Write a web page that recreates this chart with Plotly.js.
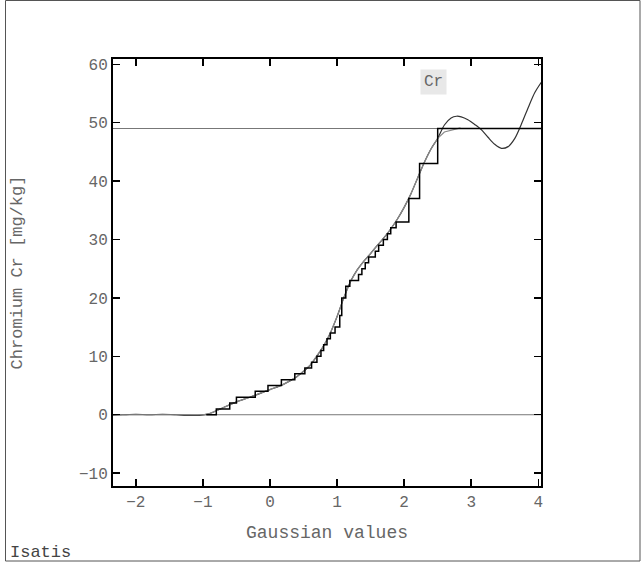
<!DOCTYPE html>
<html>
<head>
<meta charset="utf-8">
<script src="https://cdn.plot.ly/plotly-3.0.1.min.js"></script>
<style>html,body{margin:0;padding:0;background:#fff;}#chart{width:641px;height:562px;}</style>
</head>
<body>
<div id="chart"></div>
<script>
// Experimental anamorphosis: step function (Gaussian value where each Cr value starts)
var stepGauss = [-0.95, -0.80, -0.60, -0.50, -0.22, -0.03, 0.17, 0.37, 0.52, 0.62, 0.70, 0.76, 0.80, 0.85, 0.90, 0.97, 1.04, 1.07, 1.13, 1.19, 1.32, 1.37, 1.42, 1.47, 1.57, 1.62, 1.69, 1.75, 1.80, 1.88, 2.07, 2.23, 2.50, 4.05];
var stepCr    = [0, 1, 2, 3, 4, 5, 6, 7, 8, 9, 10, 11, 12, 13, 14, 15, 17, 20, 22, 23, 24, 25, 26, 27, 28, 29, 30, 31, 32, 33, 37, 43, 49, 49];

// Smooth experimental curve (light grey)
var expGauss = [-2.34, -1.5, -1.0, -0.9, -0.7, -0.5, -0.3, 0.0, 0.2, 0.4, 0.6, 0.8, 0.9, 1.0, 1.1, 1.2, 1.3, 1.4, 1.5, 1.6, 1.7, 1.8, 1.9, 2.0, 2.1, 2.2, 2.3, 2.4, 2.5, 2.6, 2.7, 2.84];
var expCr    = [0, 0, 0, 0.2, 1.2, 2.2, 3.0, 4.3, 5.2, 6.5, 8.5, 11.8, 14.0, 16.8, 20.0, 22.8, 24.8, 26.3, 27.6, 29.0, 30.3, 31.8, 33.5, 35.5, 37.8, 40.5, 43.2, 45.5, 47.3, 48.4, 48.7, 49.1];

// Hermite polynomial model (dark)
var modGauss = [-2.34, -2.2, -2.0, -1.8, -1.6, -1.4, -1.2, -1.05, -0.9, -0.7, -0.5, -0.3, 0.0, 0.2, 0.4, 0.6, 0.8, 0.9, 1.0, 1.1, 1.2, 1.3, 1.4, 1.5, 1.6, 1.7, 1.8, 1.9, 2.0, 2.1, 2.2, 2.3, 2.4, 2.5, 2.6, 2.7, 2.78, 2.85, 2.95, 3.05, 3.15, 3.25, 3.35, 3.45, 3.55, 3.65, 3.75, 3.85, 3.95, 4.05];
var modCr    = [-0.05, 0.0, 0.08, 0.0, 0.08, 0.0, -0.12, -0.1, 0.2, 1.2, 2.2, 3.0, 4.3, 5.2, 6.5, 8.5, 11.8, 14.0, 16.8, 20.0, 22.8, 24.8, 26.3, 27.6, 29.0, 30.3, 31.8, 33.5, 35.5, 37.8, 40.5, 43.2, 45.5, 47.3, 49.6, 50.8, 51.1, 51.0, 50.5, 49.7, 48.8, 47.5, 46.3, 45.6, 45.9, 47.3, 49.8, 52.6, 55.2, 57.0];

// Reference lines (Cr values)
var refLines = [0, 49];

var xTicks = [-2, -1, 0, 1, 2, 3, 4];
var yTicks = [-10, 0, 10, 20, 30, 40, 50, 60];
var labelText = "Cr";

var shapes = refLines.map(function (v) {
  return {type: 'line', xref: 'paper', yref: 'y', x0: 0, x1: 1, y0: v, y1: v,
          line: {color: '#777', width: 1}, layer: 'below'};
});
// outer frame of the picture
shapes.push({type: 'rect', xref: 'paper', yref: 'paper',
  x0: (5.5 - 113) / 428, x1: (640 - 113) / 428,
  y0: (486 - 561) / 427, y1: (486 - 0.5) / 427,
  line: {color: '#555', width: 1}});

var traces = [
  {x: modGauss, y: modCr, mode: 'lines', line: {color: '#333', width: 1.2, shape: 'spline', smoothing: 0.8}, hoverinfo: 'skip'},
  {x: expGauss, y: expCr, mode: 'lines', line: {color: '#8a8a8a', width: 1.2}, hoverinfo: 'skip'},
  {x: stepGauss, y: stepCr, mode: 'lines', line: {color: '#000', width: 1.5, shape: 'hv'}, hoverinfo: 'skip'}
];

var mono = 'Liberation Mono, Courier New, monospace';
var layout = {
  width: 641, height: 562,
  margin: {l: 113, r: 100, t: 59, b: 76},
  paper_bgcolor: '#fff', plot_bgcolor: '#fff',
  showlegend: false,
  font: {family: mono, color: '#666', size: 16},
  xaxis: {
    range: [-2.34, 4.04], tickvals: xTicks, ticktext: xTicks.map(function (v) { return v < 0 ? '\u2212' + Math.abs(v) : String(v); }),
    ticks: 'inside', ticklen: 7, tickwidth: 1.5, tickcolor: '#000',
    showline: true, linecolor: '#000', linewidth: 2, mirror: 'ticks',
    showgrid: false, zeroline: false,
    tickfont: {family: mono, size: 16, color: '#666'},
    title: {text: 'Gaussian values', font: {family: mono, size: 18, color: '#666'}, standoff: 14}
  },
  yaxis: {
    range: [-12.2, 60.9], tickvals: yTicks, ticktext: yTicks.map(function (v) { return v < 0 ? '\u2212' + Math.abs(v) : String(v); }),
    ticks: 'inside', ticklen: 7, tickwidth: 1.5, tickcolor: '#000',
    showline: true, linecolor: '#000', linewidth: 2, mirror: 'ticks',
    showgrid: false, zeroline: false,
    tickfont: {family: mono, size: 16, color: '#666'},
    title: {text: 'Chromium Cr [mg/kg]', font: {family: mono, size: 17, color: '#666'}, standoff: 52}
  },
  shapes: shapes,
  annotations: [
    {text: labelText, xref: 'paper', yref: 'paper', x: (433 - 113) / 428, y: (486 - 82) / 427,
     xanchor: 'center', yanchor: 'middle',
     showarrow: false, bgcolor: '#e8e8e8', borderpad: 3,
     font: {family: mono, size: 16, color: '#666'}},
    {text: 'Isatis', xref: 'paper', yref: 'paper', x: (8 - 113) / 428, y: (486 - 552) / 427,
     xanchor: 'left', yanchor: 'middle', showarrow: false,
     font: {family: mono, size: 17, color: '#444'}}
  ]
};

Plotly.newPlot('chart', traces, layout, {staticPlot: true, displayModeBar: false});
</script>
</body>
</html>
